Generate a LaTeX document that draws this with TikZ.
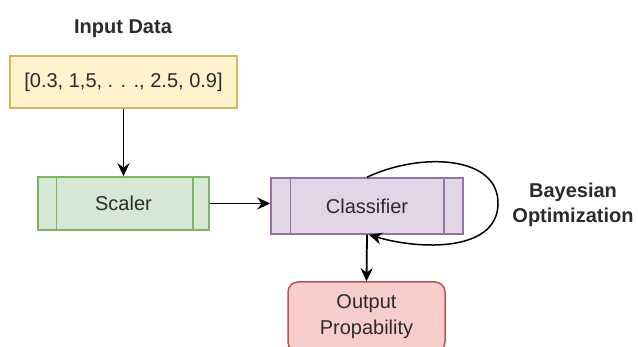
\documentclass[tikz,border=0pt]{standalone}
\usepackage{fontspec}
\setmainfont{Liberation Sans}
\usetikzlibrary{arrows.meta}

\definecolor{yelfill}{HTML}{FFF2CC}
\definecolor{yeldraw}{HTML}{D6B656}
\definecolor{grnfill}{HTML}{D5E8D4}
\definecolor{grndraw}{HTML}{82B366}
\definecolor{purfill}{HTML}{E1D5E7}
\definecolor{purdraw}{HTML}{9673A6}
\definecolor{redfill}{HTML}{F8CECC}
\definecolor{reddraw}{HTML}{B85450}
\definecolor{txtgray}{HTML}{2B2B2B}

\begin{document}
\begin{tikzpicture}[x=1pt, y=-1pt,
    every node/.style={font=\fontsize{20}{26}\selectfont, text=txtgray, inner sep=0pt},
    box/.style={draw, line width=1.5pt, align=center},
    link/.style={-{Stealth[length=13pt, width=12pt]}, line width=1.8pt, black}]
    \useasboundingbox (0,0) rectangle (638,347);

    % Title and input
    \node[font=\bfseries\fontsize{20}{26}\selectfont] (title) at (123,29) {Input Data};
    \node[box, fill=yelfill, draw=yeldraw, minimum width=227pt, minimum height=52pt] (inp) at (123.5,82) {[0.3, 1,5, . . ., 2.5, 0.9]};

    % Scaler (process box)
    \node[box, fill=grnfill, draw=grndraw, minimum width=171pt, minimum height=53pt] (scl) at (123.5,203.5) {Scaler};
    \draw[grndraw, line width=1.5pt] ([xshift=19pt]scl.north west) -- ([xshift=19pt]scl.south west);
    \draw[grndraw, line width=1.5pt] ([xshift=-17pt]scl.north east) -- ([xshift=-17pt]scl.south east);

    % Classifier (process box)
    \node[box, fill=purfill, draw=purdraw, minimum width=192pt, minimum height=56pt] (cls) at (367,206) {Classifier};
    \draw[purdraw, line width=1.5pt] ([xshift=20pt]cls.north west) -- ([xshift=20pt]cls.south west);
    \draw[purdraw, line width=1.5pt] ([xshift=-20pt]cls.north east) -- ([xshift=-20pt]cls.south east);

    % Output
    \node[box, fill=redfill, draw=reddraw, rounded corners=10pt, minimum width=157pt, minimum height=70pt] (out) at (366.5,317) {Output\\Propability};

    % Optimization label
    \node[font=\bfseries\fontsize{20}{25}\selectfont, align=center] (opt) at (573,205) {Bayesian\\Optimization};

    % Arrows
    \draw[link] (inp.south) -- (scl.north);
    \draw[link] (scl.east) -- (scl.east -| cls.west);
    \draw[link] (cls.south) -- (out.north);
    \draw[link, line width=1.5pt] (cls.north) .. controls (420,152) and (500,155) .. (498,205)
        .. controls (496,252) and (420,250) .. ([xshift=2pt]cls.south);
\end{tikzpicture}
\end{document}
